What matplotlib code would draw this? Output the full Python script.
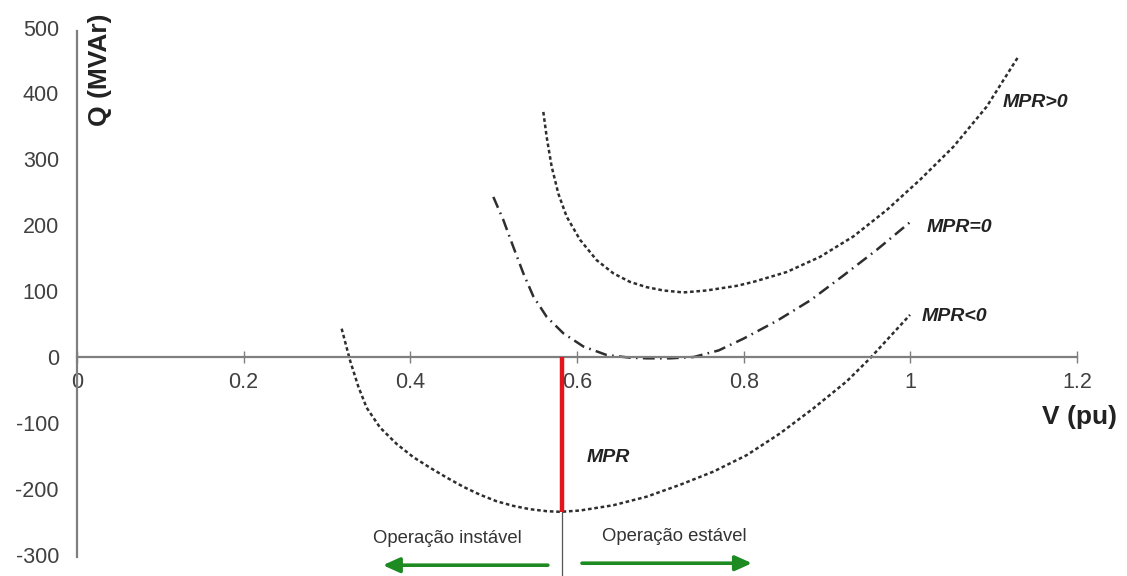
import numpy as np
import matplotlib.pyplot as plt

plt.rcParams['font.family'] = ['Liberation Sans', 'DejaVu Sans']
plt.rcParams['lines.scale_dashes'] = False

# curvas Q x V
v_neg = [0.3176, 0.3276, 0.3376, 0.3476, 0.3636, 0.3836, 0.4036, 0.4236, 0.4436, 0.4636, 0.4836,
         0.5036, 0.5236, 0.5436, 0.5636, 0.58, 0.6036, 0.6436, 0.6836, 0.7236, 0.7636, 0.8036,
         0.8436, 0.8836, 0.9236, 0.9516, 0.9756, 0.9996]
q_neg = [43, -5, -45, -77, -107, -132, -152, -168, -183, -197, -209,
         -219, -226, -231, -234, -235, -233, -225, -212, -194, -174, -149,
         -116, -78, -37, -2, 31, 64]

v_zero = [0.4996, 0.5116, 0.5236, 0.5356, 0.5476, 0.5636, 0.5836, 0.6076, 0.6356, 0.6636,
          0.6836, 0.7116, 0.74, 0.77, 0.80, 0.84, 0.88, 0.92, 0.96, 1.0]
q_zero = [243, 208, 167, 127, 92, 61, 36, 16, 3, -1,
          -2, -2, 0, 10, 28, 55, 86, 124, 163, 205]

v_pos = [0.5596, 0.5636, 0.5696, 0.5776, 0.5876, 0.6036, 0.6236, 0.6436, 0.6636, 0.6836, 0.7036,
         0.7276, 0.7556, 0.7916, 0.8116, 0.8516, 0.8916, 0.9316, 0.9716, 1.0116, 1.0516, 1.0916,
         1.1116, 1.1296]
q_pos = [372, 334, 289, 248, 213, 178, 147, 127, 114, 106, 101,
         98, 101, 108, 114, 129, 152, 183, 223, 269, 319, 380,
         420, 456]

v_mpr = 0.582
q_mpr = -235

xticks = [0, 0.2, 0.4, 0.6, 0.8, 1.0, 1.2]
xlabels = ['0', '0.2', '0.4', '0.6', '0.8', '1', '1.2']
yticks = [-300, -200, -100, 0, 100, 200, 300, 400, 500]
ylabels = [str(y) for y in yticks]

fig = plt.figure(figsize=(11.27, 5.76), dpi=100)
ax = fig.add_axes([0, 0, 1, 1])
ax.set_xlim(-0.0924, 1.26)
ax.set_ylim(-332.4, 541.9)

cor = '#2e2e2e'
ax.plot(v_neg, q_neg, color=cor, lw=1.8, linestyle=(0, (2.6, 2.0)))
ax.plot(v_zero, q_zero, color=cor, lw=1.8, linestyle=(0, (8.5, 3.8, 1.2, 3.8)))
ax.plot(v_pos, q_pos, color=cor, lw=1.8, linestyle=(0, (2.6, 2.0)))

# MPR
ax.plot([v_mpr, v_mpr], [0, q_mpr], color='#e3141b', lw=3.2, solid_capstyle='butt', zorder=4)
ax.plot([v_mpr, v_mpr], [q_mpr, -340], color='#555555', lw=0.9, zorder=4)

# eixos
for s in ['top', 'right']:
    ax.spines[s].set_visible(False)
ax.spines['left'].set_position(('data', 0))
ax.spines['bottom'].set_position(('data', 0))
ax.spines['left'].set_bounds(-303, 495)
ax.spines['bottom'].set_bounds(0, 1.2)
for s in ['left', 'bottom']:
    ax.spines[s].set_color('#7f7f7f')
    ax.spines[s].set_linewidth(1.6)

ax.set_xticks(xticks)
ax.set_xticklabels(xlabels)
ax.set_yticks(yticks)
ax.set_yticklabels(ylabels)
ax.tick_params(axis='x', direction='inout', length=9, width=1, color='#7f7f7f',
               labelsize=15.5, labelcolor='#404040', pad=6)
ax.tick_params(axis='y', length=0, labelsize=15.5, labelcolor='#404040', pad=13)

ax.text(0.028, 436, 'Q (MVAr)', rotation=90, fontsize=19, fontweight='bold',
        color='#222222', ha='center', va='center')
ax.text(1.2036, -91, 'V (pu)', fontsize=19, fontweight='bold', color='#222222',
        ha='center', va='center')

rot = dict(fontsize=14, fontweight='bold', fontstyle='italic', color='#222222', va='center')
ax.text(1.111, 386, 'MPR>0', **rot)
ax.text(1.020, 197, 'MPR=0', **rot)
ax.text(1.014, 61, 'MPR<0', **rot)
ax.text(0.612, -152, 'MPR', **rot)

ax.text(0.444, -275, 'Operação instável', fontsize=13.3, color='#333333', ha='center', va='center')
ax.text(0.717, -273, 'Operação estável', fontsize=13.3, color='#333333', ha='center', va='center')

seta = dict(arrowstyle='-|>,head_length=1.0,head_width=0.45', color='#1e8a22', lw=2.6,
            shrinkA=0, shrinkB=0)
ax.annotate('', xy=(0.367, -316), xytext=(0.565, -316), arrowprops=seta)
ax.annotate('', xy=(0.81, -313), xytext=(0.606, -313), arrowprops=seta)

fig.savefig('out.png', dpi=100)
